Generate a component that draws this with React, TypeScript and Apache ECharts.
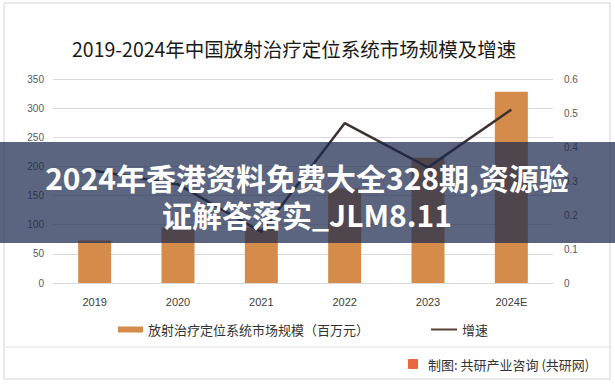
import React, { useEffect, useRef } from "react";
import * as echarts from "echarts";

const categories = ["2019", "2020", "2021", "2022", "2023", "2024E"];
const marketSize = [73, 95, 95, 162, 215, 328];
const growthRate = [0.33, 0.29, 0.15, 0.47, 0.34, 0.51];
const leftTicks = { min: 0, max: 350, interval: 50 };
const rightTicks = { min: 0, max: 0.6, interval: 0.1 };

const titleText = "2019-2024年中国放射治疗定位系统市场规模及增速";
const barName = "放射治疗定位系统市场规模（百万元）";
const lineName = "增速";
const sourceText = "制图: 共研产业咨询 (共研网)";
const bannerLines = ["2024年香港资料免费大全328期,资源验", "证解答落实_JLM8.11"];

const CJK = '"Noto Sans CJK SC", "Noto Sans", sans-serif';
const NUM = '"Liberation Sans", "Noto Sans", sans-serif';

export default function App() {
  const ref = useRef<HTMLDivElement>(null);
  useEffect(() => {
    if (!ref.current) return;
    const chart = echarts.init(ref.current, undefined, { renderer: "svg" });
    chart.setOption({
      animation: false,
      backgroundColor: "#ffffff",
      title: {
        text: titleText,
        left: 67,
        top: 34,
        textStyle: { fontFamily: CJK, fontSize: 19.5, fontWeight: "normal", color: "#1a1a1a" },
      },
      grid: { left: 53, right: 62, top: 79, bottom: 104, containLabel: false },
      legend: [
        {
          left: 113,
          top: 318,
          itemWidth: 25,
          itemHeight: 6,
          textStyle: { fontFamily: CJK, fontSize: 13, color: "#333" },
          data: [{ name: barName, icon: "rect" }],
        },
        {
          left: 426,
          top: 318,
          itemWidth: 26,
          itemHeight: 2,
          textStyle: { fontFamily: CJK, fontSize: 13, color: "#333" },
          data: [{ name: lineName, icon: "rect", itemStyle: { color: "#5a4030" } }],
        },
      ],
      xAxis: {
        type: "category",
        data: categories,
        axisLine: { show: true, lineStyle: { color: "#d9d9d9" } },
        axisTick: { show: false },
        axisLabel: { fontFamily: NUM, fontSize: 11, color: "#404040", margin: 13 },
      },
      yAxis: [
        {
          type: "value",
          min: leftTicks.min,
          max: leftTicks.max,
          interval: leftTicks.interval,
          axisLine: { show: false },
          axisTick: { show: false },
          axisLabel: { fontFamily: NUM, fontSize: 10, color: "#595959", margin: 9 },
          splitLine: { lineStyle: { color: "#d9d9d9" } },
        },
        {
          type: "value",
          min: rightTicks.min,
          max: rightTicks.max,
          interval: rightTicks.interval,
          axisLine: { show: false },
          axisTick: { show: false },
          axisLabel: { fontFamily: NUM, fontSize: 10, color: "#595959", margin: 11 },
          splitLine: { show: false },
        },
      ],
      series: [
        {
          name: barName,
          type: "bar",
          data: marketSize,
          barWidth: 33,
          itemStyle: { color: "#d58b4a" },
        },
        {
          name: lineName,
          type: "line",
          yAxisIndex: 1,
          data: growthRate,
          symbol: "none",
          showSymbol: false,
          lineStyle: { color: "#3f3030", width: 2.5 },
          itemStyle: { color: "#5a4030" },
        },
      ],
      graphic: [
        {
          type: "rect",
          shape: { x: 4, y: 3, width: 606, height: 376 },
          style: { fill: "none", stroke: "#d4d4d4", lineWidth: 1 },
          silent: true,
        },
        {
          type: "line",
          shape: { x1: 5, y1: 347, x2: 609, y2: 347 },
          style: { stroke: "#e2e2e2", lineWidth: 1 },
          silent: true,
        },
        {
          type: "rect",
          shape: { x: 408, y: 359, width: 10, height: 10, r: 1 },
          style: { fill: "#e9663f" },
          silent: true,
        },
        {
          type: "text",
          x: 428,
          y: 364,
          style: {
            text: sourceText,
            fontFamily: CJK,
            fontSize: 13,
            fill: "#333",
            verticalAlign: "middle",
          },
          silent: true,
        },
        {
          type: "rect",
          z: 100,
          shape: { x: 0, y: 142, width: 615, height: 101 },
          style: { fill: "rgba(28,42,78,0.72)" },
          silent: true,
        },
        {
          type: "text",
          z: 101,
          x: 307,
          y: 195.5,
          style: {
            text: bannerLines.join("\n"),
            fontFamily: CJK,
            fontSize: 30,
            lineHeight: 37,
            fontWeight: "bold",
            fill: "#ffffff",
            align: "center",
            verticalAlign: "middle",
          },
          silent: true,
        },
      ],
    });
    return () => chart.dispose();
  }, []);
  return (
    <div
      ref={ref}
      style={{ position: "absolute", left: 0, top: 0, width: 615, height: 387 }}
    />
  );
}
